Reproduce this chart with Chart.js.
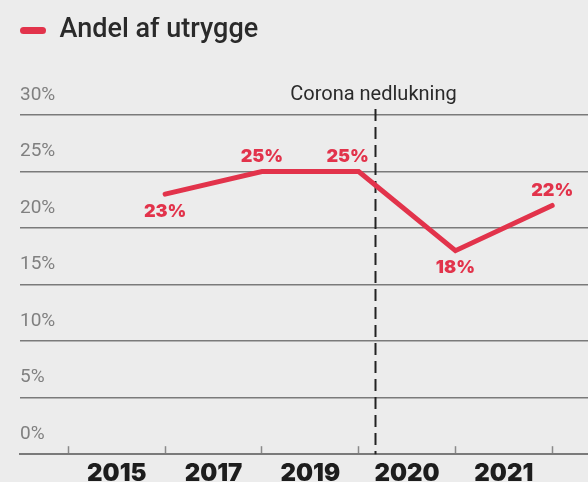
<!DOCTYPE html>
<html><head><meta charset="utf-8">
<script src="https://cdn.jsdelivr.net/npm/chart.js@4"></script>
<style>html,body{margin:0;padding:0;background:#ececec;} #wrap{width:588px;height:482px;position:relative;}</style>
</head><body><div id="wrap"><canvas id="c"></canvas></div>
<script>
const years = ['2015', '2017', '2019', '2020', '2021'];
const values = [23, 25, 25, 18, 22];
const yTickValues = [0, 5, 10, 15, 20, 25, 30];
const seriesLabel = 'Andel af utrygge';
const eventLabel = 'Corona nedlukning';
const eventPosition = 2.17; // between 2019 and 2020 (x-scale units)
const labelPlacement = ['below', 'above', 'above', 'below', 'above'];

const RED = '#e2334b';

const legendMargin = {
  id: 'legendMargin',
  beforeInit(chart) {
    const fit = chart.legend.fit;
    chart.legend.fit = function () { fit.bind(chart.legend)(); this.height += 61; };
  }
};

const valueLabels = {
  id: 'valueLabels',
  afterDatasetsDraw(chart) {
    const ctx = chart.ctx;
    const meta = chart.getDatasetMeta(0);
    ctx.save();
    ctx.font = '900 18px Inter';
    ctx.fillStyle = RED;
    ctx.textAlign = 'center';
    ctx.textBaseline = 'middle';
    meta.data.forEach((pt, i) => {
      const dy = labelPlacement[i] === 'above' ? -15 : 17;
      const dx = i === 2 ? -11 : 0;
      ctx.fillText(values[i] + '%', pt.x + dx, pt.y + dy);
    });
    ctx.restore();
  }
};

const eventLine = {
  id: 'eventLine',
  beforeDatasetsDraw(chart) {
    const ctx = chart.ctx;
    const x = Math.round(chart.scales.x.getPixelForValue(eventPosition)) + 0.5;
    const area = chart.chartArea;
    ctx.save();
    ctx.strokeStyle = '#222';
    ctx.lineWidth = 2;
    ctx.setLineDash([12, 6]);
    ctx.beginPath();
    ctx.moveTo(x, area.top - 6);
    ctx.lineTo(x, area.bottom);
    ctx.stroke();
    ctx.setLineDash([]);
    ctx.font = '20px Roboto';
    ctx.fillStyle = '#2a2a2a';
    ctx.textAlign = 'center';
    ctx.textBaseline = 'middle';
    ctx.fillText(eventLabel, x - 2, area.top - 20);
    ctx.restore();
  }
};

new Chart(document.getElementById('c'), {
  type: 'line',
  data: {
    datasets: [{
      label: seriesLabel,
      data: values.map((v, i) => ({ x: i, y: v })),
      borderColor: RED,
      backgroundColor: RED,
      borderWidth: 5,
      pointRadius: 0,
      borderCapStyle: 'round',
      borderJoinStyle: 'miter',
      tension: 0
    }]
  },
  options: {
    responsive: true,
    maintainAspectRatio: false,
    animation: false,
    layout: { padding: { left: 20, right: 0, top: 17, bottom: -19 } },
    plugins: {
      legend: {
        position: 'top',
        align: 'start',
        labels: {
          boxWidth: 26,
          boxHeight: 7,
          useBorderRadius: true,
          borderRadius: 3.5,
          padding: 0,
          color: '#2a2a2a',
          font: { family: 'Roboto', size: 27, weight: '500' },
          generateLabels(chart) {
            return Chart.defaults.plugins.legend.labels.generateLabels(chart).map(l => ({ ...l, lineWidth: 0 }));
          }
        }
      },
      tooltip: { enabled: false }
    },
    scales: {
      x: {
        type: 'linear',
        min: -1.5,
        max: 4.37,
        afterBuildTicks(scale) {
          const t = [];
          for (let i = -1; i <= years.length - 1; i++) {
            t.push({ value: i });
            if (i < years.length - 1) t.push({ value: i + 0.5 });
          }
          scale.ticks = t;
        },
        ticks: {
          autoSkip: false,
          maxRotation: 0,
          padding: 13,
          color: '#1d1d1d',
          font: { family: 'Inter', size: 24, weight: '900' },
          callback: (v) => Number.isInteger(v) ? '' : years[v + 0.5]
        },
        grid: {
          drawOnChartArea: false,
          tickLength: -8,
          tickWidth: 1.5,
          color: (c) => (c.tick && Number.isInteger(c.tick.value)) ? '#8a8a8a' : 'rgba(0,0,0,0)'
        },
        border: { display: true, color: '#7a7a7a', width: 2 }
      },
      y: {
        min: 0,
        max: 30,
        afterBuildTicks(scale) { scale.ticks = yTickValues.map(v => ({ value: v })); },
        ticks: {
          mirror: true,
          padding: 0,
          labelOffset: -20,
          color: '#808080',
          font: { family: 'Roboto', size: 19 },
          callback: (v) => v + '%'
        },
        grid: { color: '#7a7a7a', lineWidth: 1.5, drawTicks: false },
        border: { display: false }
      }
    }
  },
  plugins: [legendMargin, eventLine, valueLabels]
});
</script>
</body></html>
